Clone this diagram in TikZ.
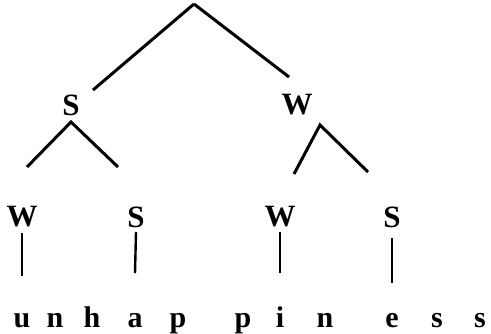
\documentclass[tikz,border=0pt]{standalone}
\usepackage{fontspec}
\setmainfont{Liberation Serif}
\usepackage{tikz}
\usetikzlibrary{calc,positioning}

\begin{document}
\begin{tikzpicture}[
    x=1pt,y=1pt,
    lbl/.style={font=\fontsize{31}{34}\selectfont\bfseries,inner sep=0pt},
    letter/.style={font=\fontsize{30}{34}\selectfont\bfseries,inner sep=0pt,anchor=base},
    branch/.style={line width=3pt},
    stem/.style={line width=2.4pt}
]
\useasboundingbox (0,0) rectangle (491,333);

% Root
\coordinate (root) at (194,329);

% Upper level
\node[lbl] (s1) at (71,228) {S};
\node[lbl] (w1) at (297,228) {W};

% Lower level
\node[lbl] (w2) at (22,116) {W};
\node[lbl] (s2) at (136,116) {S};
\node[lbl] (w3) at (280,116) {W};
\node[lbl] (s3) at (392,116) {S};

% Letters of the word
\foreach \ch/\xx [count=\i] in {u/22,n/55,h/92,a/135,p/178,p/243,i/280,n/325,e/392,s/437,s/480}
    \node[letter] (l\i) at (\xx,6) {\ch};

% ===== Branches =====
\draw[branch] (root) -- ($(s1)+(22,15)$);
\draw[branch] (root) -- ($(w1)+(-8,28)$);

\draw[branch] ($(w2)+(5,50)$) -- ($(s1)+(0,-17)$) -- ($(s2)+(-18,50)$);
\draw[branch] ($(w3)+(14,43)$) -- ($(w1)+(23,-20)$) -- ($(s3)+(-24,45)$);

% ===== Stems down to the letters =====
\draw[stem] ($(w2)+(0,-16)$) -- ($(l1)+(0,44)$);
\draw[stem] ($(s2)+(0,-15)$) -- ($(l4)+(0,47)$);
\draw[stem] ($(w3)+(0,-15)$) -- ($(l7)+(0,44)$);
\draw[stem] ($(s3)+(0,-21)$) -- ($(l9)+(0,37)$);

\end{tikzpicture}
\end{document}
